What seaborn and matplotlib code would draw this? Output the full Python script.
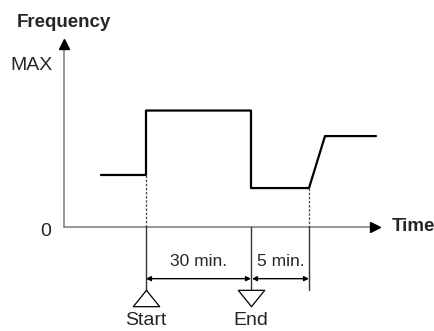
import matplotlib
matplotlib.use("Agg")
import matplotlib.pyplot as plt
from matplotlib.path import Path
import seaborn as sns
import pandas as pd

# frequency profile (x = position along time axis, y = fraction of MAX)
time_pos = [37, 82, 82, 187, 187, 245, 261, 312]
freq_val = [0.319, 0.319, 0.718, 0.718, 0.238, 0.238, 0.56, 0.56]

# event marks on the time axis
start_t = 82
end_t = 187
ramp_t = 245
interval_labels = ["30 min.", "5 min."]
event_labels = ["Start", "End"]
y_tick_labels = ["0", "MAX"]

sns.set_style("white")
plt.rcParams["font.family"] = ["Liberation Sans", "DejaVu Sans"]

fig = plt.figure(figsize=(4.35, 3.31), dpi=100)
ax = fig.add_axes([0, 0, 1, 1])
px_y = 161.5  # pixels per MAX unit
ax.set_xlim(-64, 371)
ax.set_ylim(-(331 - 226.5) / px_y, 226.5 / px_y)
ax.axis("off")

df = pd.DataFrame({"t": time_pos, "f": freq_val})
sns.lineplot(data=df, x="t", y="f", sort=False, estimator=None,
             color="black", linewidth=1.6, ax=ax)

# axes with arrow heads
axis_col = "#7a7a7a"
ax.plot([0, 0], [0, 1.13], color=axis_col, lw=1.1)
ax.plot([0, 310], [0, 0], color=axis_col, lw=1.1)
ax.plot(0, 1.127, marker="^", ms=7, color="black", mec="black")
ax.plot(311.5, 0, marker=">", ms=7, color="black", mec="black")

ax.text(0, 1.262, "Frequency", ha="center", va="center", fontsize=13.5, fontweight="bold")
ax.text(328, 0, "Time", ha="left", va="center", fontsize=13.5, fontweight="bold")
ax.text(-33, 1.0, y_tick_labels[1], ha="center", va="center", fontsize=14)
ax.text(-18, -0.03, y_tick_labels[0], ha="center", va="center", fontsize=14)

# dotted guides from the profile down to the axis
ax.plot([start_t, start_t], [freq_val[0], 0], color="#444444", lw=0.9, ls=(0, (2, 1.3)))
ax.plot([ramp_t, ramp_t], [freq_val[4], 0], color="#444444", lw=0.9, ls=(0, (2, 1.3)))

# solid ticks below the axis
low = -0.405
for t in [start_t, end_t, ramp_t]:
    ax.plot([t, t], [0, low + (0.01 if t == ramp_t else 0)], color="#333333", lw=1.0)

# dimension arrows
dim_y = -0.323
for (a, b), lab in zip([(start_t, end_t), (end_t + 1, ramp_t)], interval_labels):
    ax.annotate("", xy=(b, dim_y), xytext=(a, dim_y),
                arrowprops=dict(arrowstyle="<|-|>", color="black", lw=1.0,
                                mutation_scale=7, shrinkA=0, shrinkB=0))
    ax.text((a + b) / 2, -0.214, lab, ha="center", va="center", fontsize=12.5)

# start / end triangles
tri_up = Path([(-1, -0.62), (1, -0.62), (0, 0.62), (-1, -0.62)],
              [Path.MOVETO, Path.LINETO, Path.LINETO, Path.CLOSEPOLY])
tri_dn = Path([(-1, 0.62), (1, 0.62), (0, -0.62), (-1, 0.62)],
              [Path.MOVETO, Path.LINETO, Path.LINETO, Path.CLOSEPOLY])
ax.plot(start_t, -0.443, marker=tri_up, ms=19, mfc="white", mec="black", mew=0.9, ls="none")
ax.plot(end_t, -0.445, marker=tri_dn, ms=19, mfc="white", mec="black", mew=0.9, ls="none")
ax.text(start_t, -0.585, event_labels[0], ha="center", va="center", fontsize=14)
ax.text(end_t, -0.585, event_labels[1], ha="center", va="center", fontsize=14)

fig.savefig("out.png", dpi=100)
